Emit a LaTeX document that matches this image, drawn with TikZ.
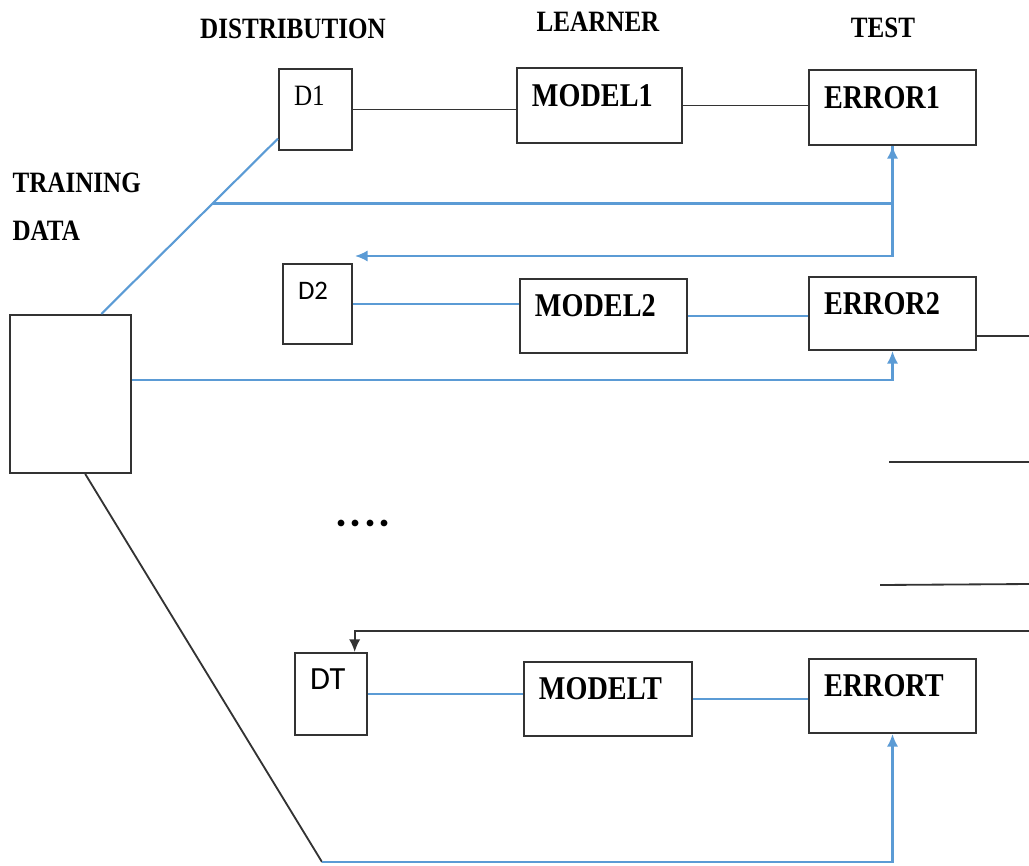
\documentclass[tikz,border=0pt]{standalone}
\usepackage{fontspec}
\setmainfont{Liberation Serif}[FakeStretch=0.85]
\newfontfamily\dfont{Carlito}
\usetikzlibrary{arrows.meta,calc}
\definecolor{lineblue}{RGB}{91,155,213}

\begin{document}
\begin{tikzpicture}[x=0.0125cm,y=-0.0125cm,
    box/.style={draw=black!80, line width=0.7pt, inner xsep=0.1875cm, inner ysep=0pt, align=left,
      text height=8pt, text depth=7.3pt, font=\fontsize{11.8}{14}\selectfont\bfseries},
    dbox/.style={box, text height=7pt, text depth=10pt, font=\fontsize{10.5}{12}\selectfont},
    head/.style={inner sep=0pt, font=\fontsize{10.5}{12}\selectfont\bfseries},
    blk/.style={draw=black!80, line width=0.65pt},
    blu/.style={draw=lineblue, line width=0.75pt},
    arr/.style={-{Latex[length=4.5pt,width=4pt]}}]
    \useasboundingbox (0,0) rectangle (1029,865);
    % column heads
    \node[head] (hdist) at (293,29) {DISTRIBUTION};
    \node[head] (hlearn) at (598,22) {LEARNER};
    \node[head] (htest) at (883,28) {TEST};
    \node[head, anchor=west] (htrain) at (12,183) {TRAINING};
    \node[head, anchor=west] (hdata) at (12,231) {DATA};
    % boxes
    \node[box, text width=1.1375cm, minimum height=1.975cm] (train) at (70.5,394) {};
    \node[dbox, text width=0.5375cm, minimum height=1.0125cm] (d1) at (315.5,109.5) {D1};
    \node[dbox, text width=0.4875cm, minimum height=1.0cm, font=\dfont\fontsize{9.5}{11}\selectfont] (d2) at (317.5,304) {D2};
    \node[dbox, text width=0.525cm, minimum height=1.025cm, font=\dfont\fontsize{11.5}{13}\selectfont] (dT) at (331,694) {DT};
    \node[box, text width=1.6875cm, minimum height=0.9375cm] (m1) at (599.5,105.5) {MODEL1};
    \node[box, text width=1.7125cm, minimum height=0.925cm] (m2) at (603.5,316) {MODEL2};
    \node[box, text width=1.725cm, minimum height=0.925cm] (mT) at (608,699) {MODELT};
    \node[box, text width=1.7125cm, minimum height=0.9375cm] (e1) at (892.5,107.5) {ERROR1};
    \node[box, text width=1.7125cm, minimum height=0.9125cm] (e2) at (892.5,313.5) {ERROR2};
    \node[box, text width=1.7125cm, minimum height=0.925cm] (eT) at (892.5,696) {ERRORT};
    \node[font=\dfont\fontsize{16}{16}\selectfont\bfseries] (dots) at (363,523) {.\kern0.9pt.\kern0.9pt.\kern0.9pt.};
    % free ends
    \coordinate (tr) at ($(train.north west)!0.75!(train.north east)$);
    \coordinate (d1in) at ($(d1.south west)!0.15!(d1.north west)$);
    \coordinate (br) at ($(tr)!0.63!(d1in)$);
    \coordinate (back2) at (355,256);
    \coordinate (out2) at (1029,336);
    \coordinate (r3a) at (889,462);
    \coordinate (r3b) at (1029,462);
    \coordinate (r4a) at (880,585);
    \coordinate (r4b) at (1029,584);
    \coordinate (inT) at (1029,631);
    \coordinate (dTin) at ($(dT.north west)!0.82!(dT.north east)$);
    \coordinate (trb) at ($(train.south west)!0.62!(train.south east)$);
    \coordinate (low) at (322,862);
    % row 1
    \draw[blk] (d1.east) -- (d1.east -| m1.west);
    \draw[blk] (m1.east) -- (m1.east -| e1.west);
    \draw[blu] (tr) -- (d1in);
    \draw[blu, arr] (br) -| (e1.south);
    \draw[blu, arr] (e1.south) |- (back2);
    % row 2
    \draw[blu] (d2.east) -- (d2.east -| m2.west);
    \draw[blu] (m2.east) -- (m2.east -| e2.west);
    \draw[blk] ($(e2.south east)!0.2!(e2.north east)$) -- (out2);
    \draw[blu, arr] ($(train.north east)!0.41!(train.south east)$) -| (e2.south);
    \draw[blk] (r3a) -- (r3b);
    \draw[blk] (r4a) -- (r4b);
    % row T
    \draw[blk, arr] (inT) -| (dTin);
    \draw[blu] (dT.east) -- (dT.east -| mT.west);
    \draw[blu] (mT.east) -- (mT.east -| eT.west);
    \draw[blk] (trb) -- (low);
    \draw[blu, arr] (low) -| (eT.south);
\end{tikzpicture}
\end{document}
